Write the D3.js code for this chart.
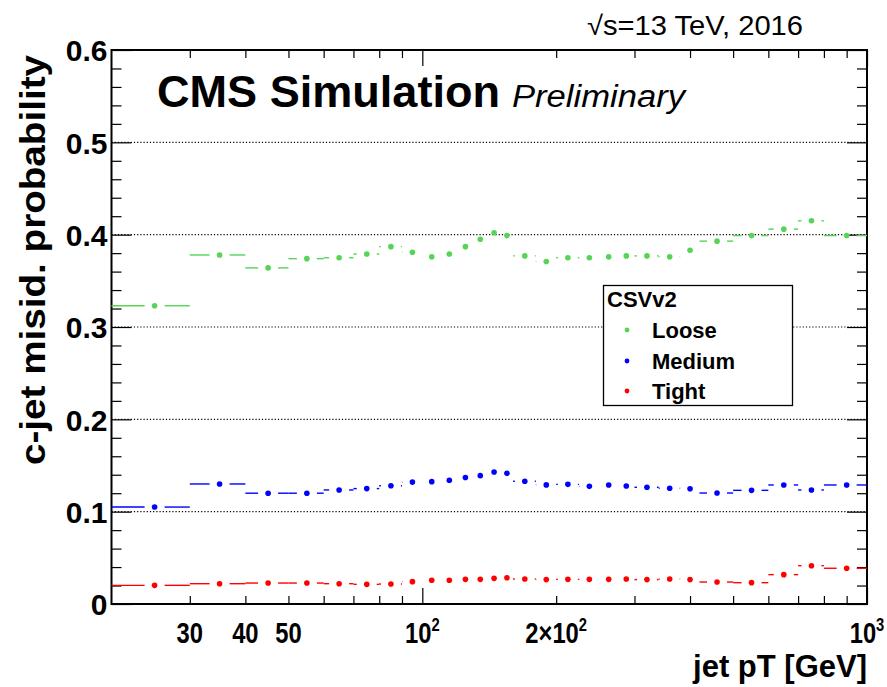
<!DOCTYPE html>
<html>
<head>
<meta charset="utf-8">
<script src="https://cdn.jsdelivr.net/npm/d3@7"></script>
<style>
  html, body { margin: 0; padding: 0; background: #fff; }
  svg { display: block; }
  text { font-family: "Liberation Sans", Arial, Helvetica, sans-serif; }
</style>
</head>
<body>
<svg id="chart" width="887" height="687"></svg>
<script>
// ---------------- data ----------------
const binLow  = [20, 30, 40, 50, 60, 70, 80, 90, 100, 110, 120, 130, 140, 150, 160, 180, 200, 225, 250, 275, 300, 340, 380, 420, 500, 600, 700, 800];
const binHigh = [30, 40, 50, 60, 70, 80, 90, 100, 110, 120, 130, 140, 150, 160, 180, 200, 225, 250, 275, 300, 340, 380, 420, 500, 600, 700, 800, 1000];
const binCenter = [25, 35, 45, 55, 65, 75, 85, 95, 105, 115, 125, 135, 145, 155, 170, 190, 212.5, 237.5, 262.5, 287.5, 320, 360, 400, 460, 550, 650, 750, 900];

const looseVals  = [0.323, 0.378, 0.364, 0.374, 0.375, 0.379, 0.387, 0.381, 0.376, 0.379, 0.387, 0.395, 0.402, 0.399, 0.377, 0.371, 0.375, 0.375, 0.376, 0.377, 0.377, 0.376, 0.383, 0.393, 0.399, 0.406, 0.415, 0.399];
const mediumVals = [0.105, 0.130, 0.120, 0.120, 0.1235, 0.125, 0.128, 0.132, 0.1325, 0.134, 0.137, 0.139, 0.143, 0.1415, 0.133, 0.129, 0.1296, 0.1274, 0.1289, 0.1278, 0.1264, 0.1253, 0.1249, 0.1202, 0.1231, 0.1289, 0.1235, 0.1289];
const tightVals  = [0.0202, 0.022, 0.0227, 0.0227, 0.022, 0.0213, 0.0217, 0.0242, 0.0257, 0.0257, 0.0267, 0.0267, 0.0278, 0.0285, 0.0271, 0.0264, 0.0267, 0.0267, 0.0267, 0.0271, 0.0264, 0.0271, 0.0264, 0.0238, 0.0231, 0.0318, 0.0415, 0.0387];

const seriesNames  = ["Loose", "Medium", "Tight"];
const seriesColors = ["#55d455", "#0000ff", "#ff0000"];

const yMajorTicks = [0, 0.1, 0.2, 0.3, 0.4, 0.5, 0.6];
const yTickLabels = ["0", "0.1", "0.2", "0.3", "0.4", "0.5", "0.6"];
const yGridValues = [0.1, 0.2, 0.3, 0.4, 0.5];
const yMinorTicks = [0.02, 0.04, 0.06, 0.08, 0.12, 0.14, 0.16, 0.18, 0.22, 0.24, 0.26, 0.28, 0.32, 0.34, 0.36, 0.38, 0.42, 0.44, 0.46, 0.48, 0.52, 0.54, 0.56, 0.58];
const xMajorTicks = [100, 1000];
const xMinorTicks = [30, 40, 50, 60, 70, 80, 90, 200, 300, 400, 500, 600, 700, 800, 900];
const xLabelValues = [30, 40, 50, 100, 200, 1000];
const xLabelBase   = ["30", "40", "50", "10", "2\u00d710", "10"];
const xLabelExp    = ["", "", "", "2", "2", "3"];

// ---------------- layout ----------------
const svg = d3.select("#chart");
const L = 111.5, R = 867, T = 50, B = 604;
const x = d3.scaleLog().domain([20, 1000]).range([L, R]);
const y = d3.scaleLinear().domain([0, 0.6]).range([B, T]);

// grid lines
svg.append("g").selectAll("line").data(yGridValues).join("line")
  .attr("x1", L).attr("x2", R)
  .attr("y1", d => y(d)).attr("y2", d => y(d))
  .attr("stroke", "#000").attr("stroke-width", 1.1)
  .attr("stroke-dasharray", "1.2,2");

// axes ticks
function styleAxis(g) {
  g.select(".domain").remove();
  g.selectAll(".tick line").attr("stroke", "#000").attr("stroke-width", 1.2);
}
svg.append("g").attr("transform", `translate(${L},0)`)
  .call(d3.axisLeft(y).tickValues(yMinorTicks).tickSize(-10).tickFormat(""))
  .call(styleAxis);
const yMajor = svg.append("g").attr("transform", `translate(${L},0)`)
  .call(d3.axisLeft(y).tickValues(yMajorTicks).tickSize(-20).tickPadding(4)
        .tickFormat((d, i) => yTickLabels[i]))
  .call(styleAxis);
yMajor.selectAll("text")
  .attr("font-family", "'Liberation Sans', Arial, sans-serif")
  .attr("font-size", 30).attr("font-weight", "bold").attr("fill", "#000")
  .attr("dy", "0.36em");
svg.append("g").attr("transform", `translate(${R},0)`)
  .call(d3.axisRight(y).tickValues(yMinorTicks).tickSize(-10).tickFormat(""))
  .call(styleAxis);
svg.append("g").attr("transform", `translate(${R},0)`)
  .call(d3.axisRight(y).tickValues(yMajorTicks).tickSize(-20).tickFormat(""))
  .call(styleAxis);

svg.append("g").attr("transform", `translate(0,${B})`)
  .call(d3.axisBottom(x).tickValues(xMinorTicks).tickSize(-8).tickFormat(""))
  .call(styleAxis);
svg.append("g").attr("transform", `translate(0,${B})`)
  .call(d3.axisBottom(x).tickValues(xMajorTicks).tickSize(-16).tickFormat(""))
  .call(styleAxis);
svg.append("g").attr("transform", `translate(0,${T})`)
  .call(d3.axisTop(x).tickValues(xMinorTicks).tickSize(-8).tickFormat(""))
  .call(styleAxis);
svg.append("g").attr("transform", `translate(0,${T})`)
  .call(d3.axisTop(x).tickValues(xMajorTicks).tickSize(-16).tickFormat(""))
  .call(styleAxis);

// x tick labels
const xl = svg.append("g").selectAll("text").data(xLabelValues).join("text")
  .attr("x", d => x(d)).attr("y", 643)
  .attr("text-anchor", "middle")
  .attr("font-size", 29).attr("font-weight", "bold")
  .attr("transform", d => `translate(${x(d)},0) scale(0.82,1) translate(${-x(d)},0)`);
xl.append("tspan").text((d, i) => xLabelBase[i]);
xl.append("tspan").attr("font-size", 18).attr("dy", -12).text((d, i) => xLabelExp[i]);

// frame
svg.append("rect").attr("x", L).attr("y", T).attr("width", R - L).attr("height", B - T)
  .attr("fill", "none").attr("stroke", "#000").attr("stroke-width", 2);

// data
const seriesVals = [looseVals, mediumVals, tightVals];
const gap = 10;
seriesVals.forEach((vals, si) => {
  const g = svg.append("g");
  const col = seriesColors[si];
  const segs = [];
  vals.forEach((v, i) => {
    const xc = x(binCenter[i]), xl0 = x(binLow[i]), xh = x(binHigh[i]);
    if (xc - gap > xl0) segs.push([xl0, xc - gap, y(v)]);
    if (xc + gap < xh) segs.push([xc + gap, xh, y(v)]);
  });
  g.selectAll("line").data(segs).join("line")
    .attr("x1", d => d[0]).attr("x2", d => d[1])
    .attr("y1", d => d[2]).attr("y2", d => d[2])
    .attr("stroke", col).attr("stroke-width", 1.4);
  g.selectAll("circle").data(vals).join("circle")
    .attr("cx", (d, i) => x(binCenter[i])).attr("cy", d => y(d))
    .attr("r", 2.8).attr("fill", col);
});

// legend
const lg = svg.append("g");
lg.append("rect").attr("x", 603.5).attr("y", 285.5).attr("width", 189).attr("height", 120)
  .attr("fill", "#fff").attr("stroke", "#000").attr("stroke-width", 1.3);
lg.append("text").attr("x", 607).attr("y", 306.5).attr("font-size", 22).attr("font-weight", "bold")
  .text("CSVv2");
const legY = [330, 361, 391];
seriesNames.forEach((n, i) => {
  lg.append("circle").attr("cx", 627).attr("cy", legY[i]).attr("r", 2.4).attr("fill", seriesColors[i]);
  lg.append("text").attr("x", 652).attr("y", legY[i] + 7.5).attr("font-size", 22).attr("font-weight", "bold")
    .text(n);
});

// titles
svg.append("text").attr("x", 157).attr("y", 107).attr("font-size", 44).attr("font-weight", "bold")
  .attr("textLength", 343).attr("lengthAdjust", "spacingAndGlyphs")
  .text("CMS Simulation");
svg.append("text").attr("x", 512).attr("y", 107).attr("font-size", 31).attr("font-style", "italic")
  .attr("textLength", 173).attr("lengthAdjust", "spacingAndGlyphs")
  .text("Preliminary");
svg.append("text").attr("x", 587).attr("y", 35).attr("font-size", 27)
  .attr("textLength", 216).attr("lengthAdjust", "spacingAndGlyphs")
  .text("\u221As=13 TeV, 2016");

svg.append("text").attr("transform", "translate(45,55) rotate(-90)")
  .attr("text-anchor", "end").attr("font-size", 35).attr("font-weight", "bold")
  .attr("textLength", 410).attr("lengthAdjust", "spacingAndGlyphs")
  .text("c-jet misid. probability");

svg.append("text").attr("x", 867).attr("y", 677).attr("text-anchor", "end")
  .attr("font-size", 31).attr("font-weight", "bold")
  .text("jet pT [GeV]");
</script>
</body>
</html>
